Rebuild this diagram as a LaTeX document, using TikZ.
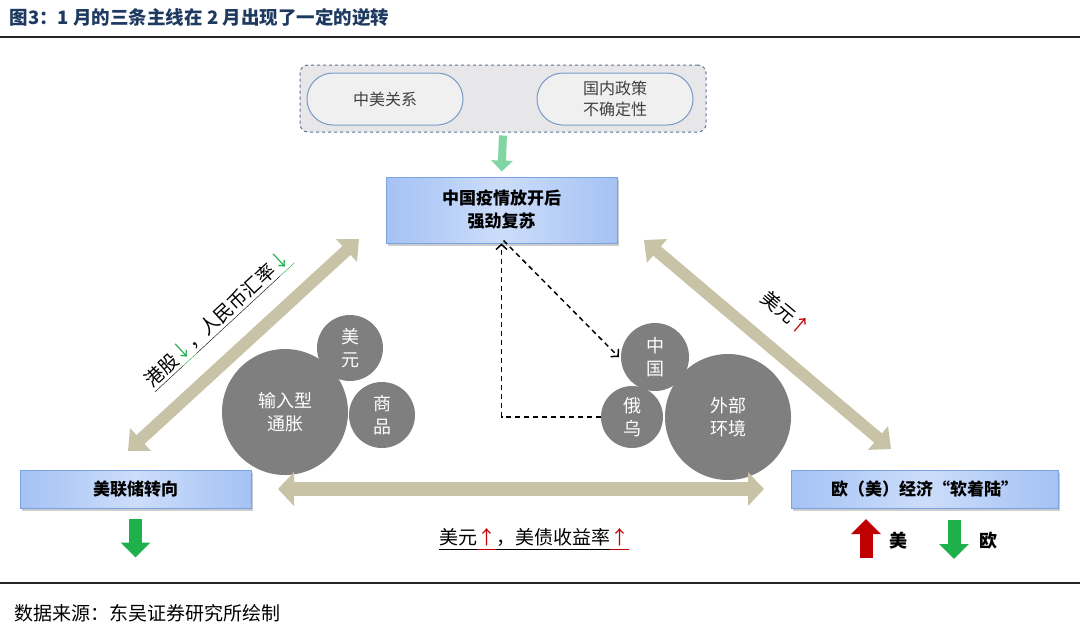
\documentclass[tikz,border=0pt]{standalone}
\usepackage{fontspec}
\setmainfont{Noto Sans CJK SC}
\usepackage{tikz}
\usetikzlibrary{arrows.meta,shapes,positioning,calc,shadows}
\usepackage{xcolor}

\definecolor{titleBlue}{HTML}{1F3A60}
\definecolor{tanArrow}{HTML}{C8C2A6}
\definecolor{bubbleGray}{HTML}{7F7F7F}
\definecolor{boxBlue}{HTML}{A4C2F4}
\definecolor{boxLight}{HTML}{CCDDFA}
\definecolor{boxEdge}{HTML}{7BA3E2}
\definecolor{paleGreen}{HTML}{7FD6A2}
\definecolor{sigGreen}{HTML}{1DB04B}
\definecolor{sigRed}{HTML}{C00000}
\definecolor{panelGray}{HTML}{E7E7E9}
\definecolor{panelEdge}{HTML}{5A7296}
\definecolor{pillEdge}{HTML}{7A9AC6}

% 统一深度的下划线
\newcommand{\ulseg}[1]{\underline{\raisebox{0pt}[\height][0pt]{#1}\rule[-3pt]{0pt}{3pt}}}

\tikzset{
  bluebox/.style={draw=boxEdge, line width=1pt, left color=boxBlue, right color=boxBlue,
    middle color=boxLight, align=center, font=\fontsize{17}{23}\selectfont\bfseries,
    drop shadow={shadow xshift=2pt, shadow yshift=-3pt, fill=black, opacity=0.2}},
  pill/.style={draw=pillEdge, line width=1pt, fill=gray!12, rounded corners=26pt,
    minimum width=156pt, minimum height=52pt, align=center,
    font=\fontsize{16}{21}\selectfont, text=black!75},
  bubble/.style={circle, fill=bubbleGray, text=white, align=center, inner sep=0pt,
    font=\fontsize{18}{23}\selectfont},
  fatarrow/.style={line width=12pt, draw=tanArrow,
    {Triangle[length=17pt,width=30pt]}-{Triangle[length=17pt,width=30pt]}},
  signal/.style={line width=13pt, -{Triangle[length=15pt,width=29pt]}},
  dasharrow/.style={dashed, dash pattern=on 5pt off 4pt, line width=1.5pt,
    -{Straight Barb[length=5pt,width=11pt]}},
  sidelabel/.style={font=\fontsize{19}{23}\selectfont}
}

\begin{document}
\begin{tikzpicture}[x=1pt, y=-1pt]
    \useasboundingbox (0,0) rectangle (1080,630);

    % 标题与横线
    \node[anchor=west, text=titleBlue, font=\fontsize{18.5}{22}\selectfont\bfseries] (title) at (6,17)
        {图3：1 月的三条主线在 2 月出现了一定的逆转};
    \draw[line width=2.5pt, black!85] (0,37) -- (1080,37);
    \draw[line width=2.5pt, black!85] (0,583) -- (1080,583);
    \node[anchor=west, font=\fontsize{19}{22}\selectfont] (source) at (11,613)
        {数据来源：东吴证券研究所绘制};

    % 顶部因素
    \node[draw=panelEdge, dashed, line width=1pt, fill=panelGray, rounded corners=8pt,
          minimum width=406pt, minimum height=67pt] (factors) at (503,98.5) {};
    \node[pill] (sinous) at (385,99) {中美关系};
    \node[pill] (policy) at (615,99) {国内政策\\不确定性};

    % 三个主线
    \node[bluebox, minimum width=231pt, minimum height=66pt] (recovery) at (501.5,210)
        {中国疫情放开后\\强劲复苏};
    \node[bluebox, minimum width=231pt, minimum height=38pt] (fed) at (135.5,489) {美联储转向};
    \node[bluebox, minimum width=267pt, minimum height=38pt] (landing) at (924.5,489)
        {欧（美）经济“软着陆”};

    \draw[line width=8pt, draw=paleGreen, -{Triangle[length=11pt,width=21pt]},
          shorten <=3pt, shorten >=5pt] (factors.south) -- (recovery.north);

    % 气泡
    \node[bubble, minimum size=126pt] (inflation) at (285,412) {输入型\\通胀};
    \node[bubble, minimum size=66pt] (usd) at (350,348) {美\\元};
    \node[bubble, minimum size=66pt] (goods) at (382,415) {商\\品};
    \node[bubble, minimum size=68pt] (china) at (655,357) {中\\国};
    \node[bubble, minimum size=62pt] (ewu) at (632,417) {俄\\乌};
    \node[bubble, minimum size=126pt] (external) at (728,417) {外部\\环境};

    \draw[dasharrow] (ewu.west) -| (recovery.south);
    \draw[dasharrow] ([xshift=2pt,yshift=3pt]recovery.south) -- ([xshift=-2pt]china.west);

    % 三条双向箭头
    \coordinate (leftLow) at (128,451);
    \coordinate (leftHigh) at (359,239);
    \coordinate (rightHigh) at (644,240);
    \coordinate (rightLow) at (891,449);
    \coordinate (midLeft) at (278,489);
    \coordinate (midRight) at (764,489);
    \draw[fatarrow] (leftLow) -- (leftHigh);
    \draw[fatarrow] (rightHigh) -- (rightLow);
    \draw[fatarrow, line width=14pt, {Triangle[length=16pt,width=33pt]}-{Triangle[length=16pt,width=33pt]}]
        (midLeft) -- (midRight);

    % 箭头旁的文字
    \node[sidelabel, rotate=42.8] (hkLabel) at (218,320)
        {\ulseg{港股}{\color{sigGreen}\ulseg{↓}}\ulseg{，人民币汇率}{\color{sigGreen}\ulseg{↓}}};
    \node[sidelabel, rotate=-40] (usdLabel) at (786,313) {美元{\color{sigRed}↑}};
    \node[sidelabel] (yieldLabel) at (534,539)
        {\ulseg{美元}{\color{sigRed}\ulseg{↑}}\ulseg{，美债收益率}{\color{sigRed}\ulseg{↑}}};

    % 涨跌信号
    \node[font=\fontsize{18}{22}\selectfont\bfseries] (usMark) at (898,541) {美};
    \node[font=\fontsize{18}{22}\selectfont\bfseries] (euMark) at (988,541) {欧};
    \draw[signal, sigGreen] ($(fed.south)+(0,10)$) -- ++(0,39);
    \draw[signal, sigRed] ($(usMark)+(-32,17)$) -- ++(0,-39);
    \draw[signal, sigGreen] ($(euMark)+(-34,-21)$) -- ++(0,39);
\end{tikzpicture}
\end{document}
